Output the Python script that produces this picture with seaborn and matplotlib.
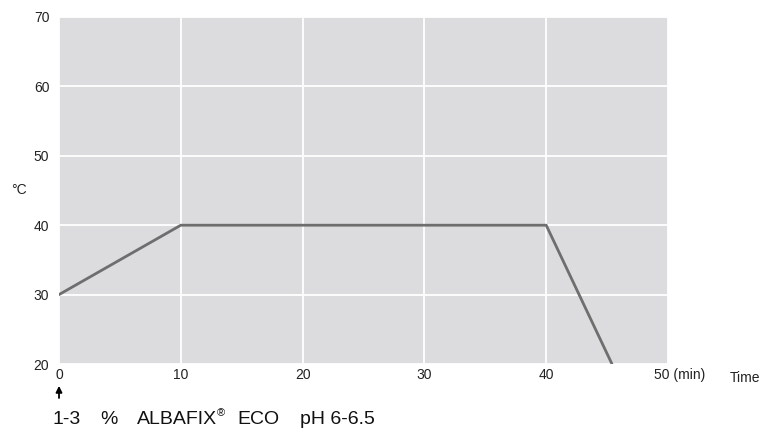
import seaborn as sns
import matplotlib.pyplot as plt
import matplotlib.transforms as mtransforms
import pandas as pd

# dyeing profile: time (min) vs temperature (°C)
time_min = [0, 10, 40, 45.4]
temp_c = [30, 40, 40, 20]
x_ticks = [0, 10, 20, 30, 40, 50]
x_labels = ['0', '10', '20', '30', '40', '50 (min)']
y_ticks = [20, 30, 40, 50, 60, 70]
# recipe line under the chart: (text, x pixel)
recipe = [('1-3', 52), ('%', 100), ('ALBAFIX', 137), ('ECO', 237), ('pH 6-6.5', 300)]

df = pd.DataFrame({'time': time_min, 'temp': temp_c})

sns.set_theme(style='darkgrid', rc={'axes.facecolor': '#dcdcde',
                                    'grid.color': 'white',
                                    'grid.linewidth': 1.3})
plt.rcParams['font.family'] = ['Liberation Sans', 'DejaVu Sans']

W, H = 766, 429
fig = plt.figure(figsize=(W / 100, H / 100), dpi=100)
ax = fig.add_axes([59 / W, 1 - 364 / H, 609 / W, 347 / H])
sns.lineplot(data=df, x='time', y='temp', color='#6e6e6e', linewidth=2, ax=ax)

ax.set_xlim(0, 50)
ax.set_ylim(20, 70)
ax.set_xticks(x_ticks)
ax.set_xticklabels(x_labels)
ax.set_yticks(y_ticks)
ax.tick_params(axis='both', length=0, labelsize=10, colors='#222222')
ax.tick_params(axis='x', pad=3)
ax.tick_params(axis='y', pad=7)
ax.set_xlabel('')
ax.set_ylabel('')
for s in ax.spines.values():
    s.set_visible(False)

# nudge "50 (min)" to the right like the original
last = ax.get_xticklabels()[-1]
last.set_transform(last.get_transform() + mtransforms.ScaledTranslation(12 / 100, 0, fig.dpi_scale_trans))

fig.text(19 / W, 1 - 190 / H, '°C', fontsize=10, ha='center', va='center', color='#222222')
fig.text(745 / W, 1 - 378 / H, 'Time', fontsize=10, ha='center', va='center', color='#222222')

# dosing arrow under t = 0
ax.annotate('', xy=(0, -0.063), xytext=(0, -0.098), xycoords=('data', 'axes fraction'),
            textcoords=('data', 'axes fraction'),
            arrowprops=dict(arrowstyle='-|>', color='black', lw=1.3, mutation_scale=9,
                            shrinkA=0, shrinkB=0))

for txt, px in recipe:
    fig.text(px / W, 1 - 424 / H, txt, fontsize=14, ha='left', va='baseline', color='#111111')
fig.text(217 / W, 1 - 416 / H, '\u00ae', fontsize=8, ha='left', va='baseline', color='#111111')

plt.savefig('out.png', dpi=100)
